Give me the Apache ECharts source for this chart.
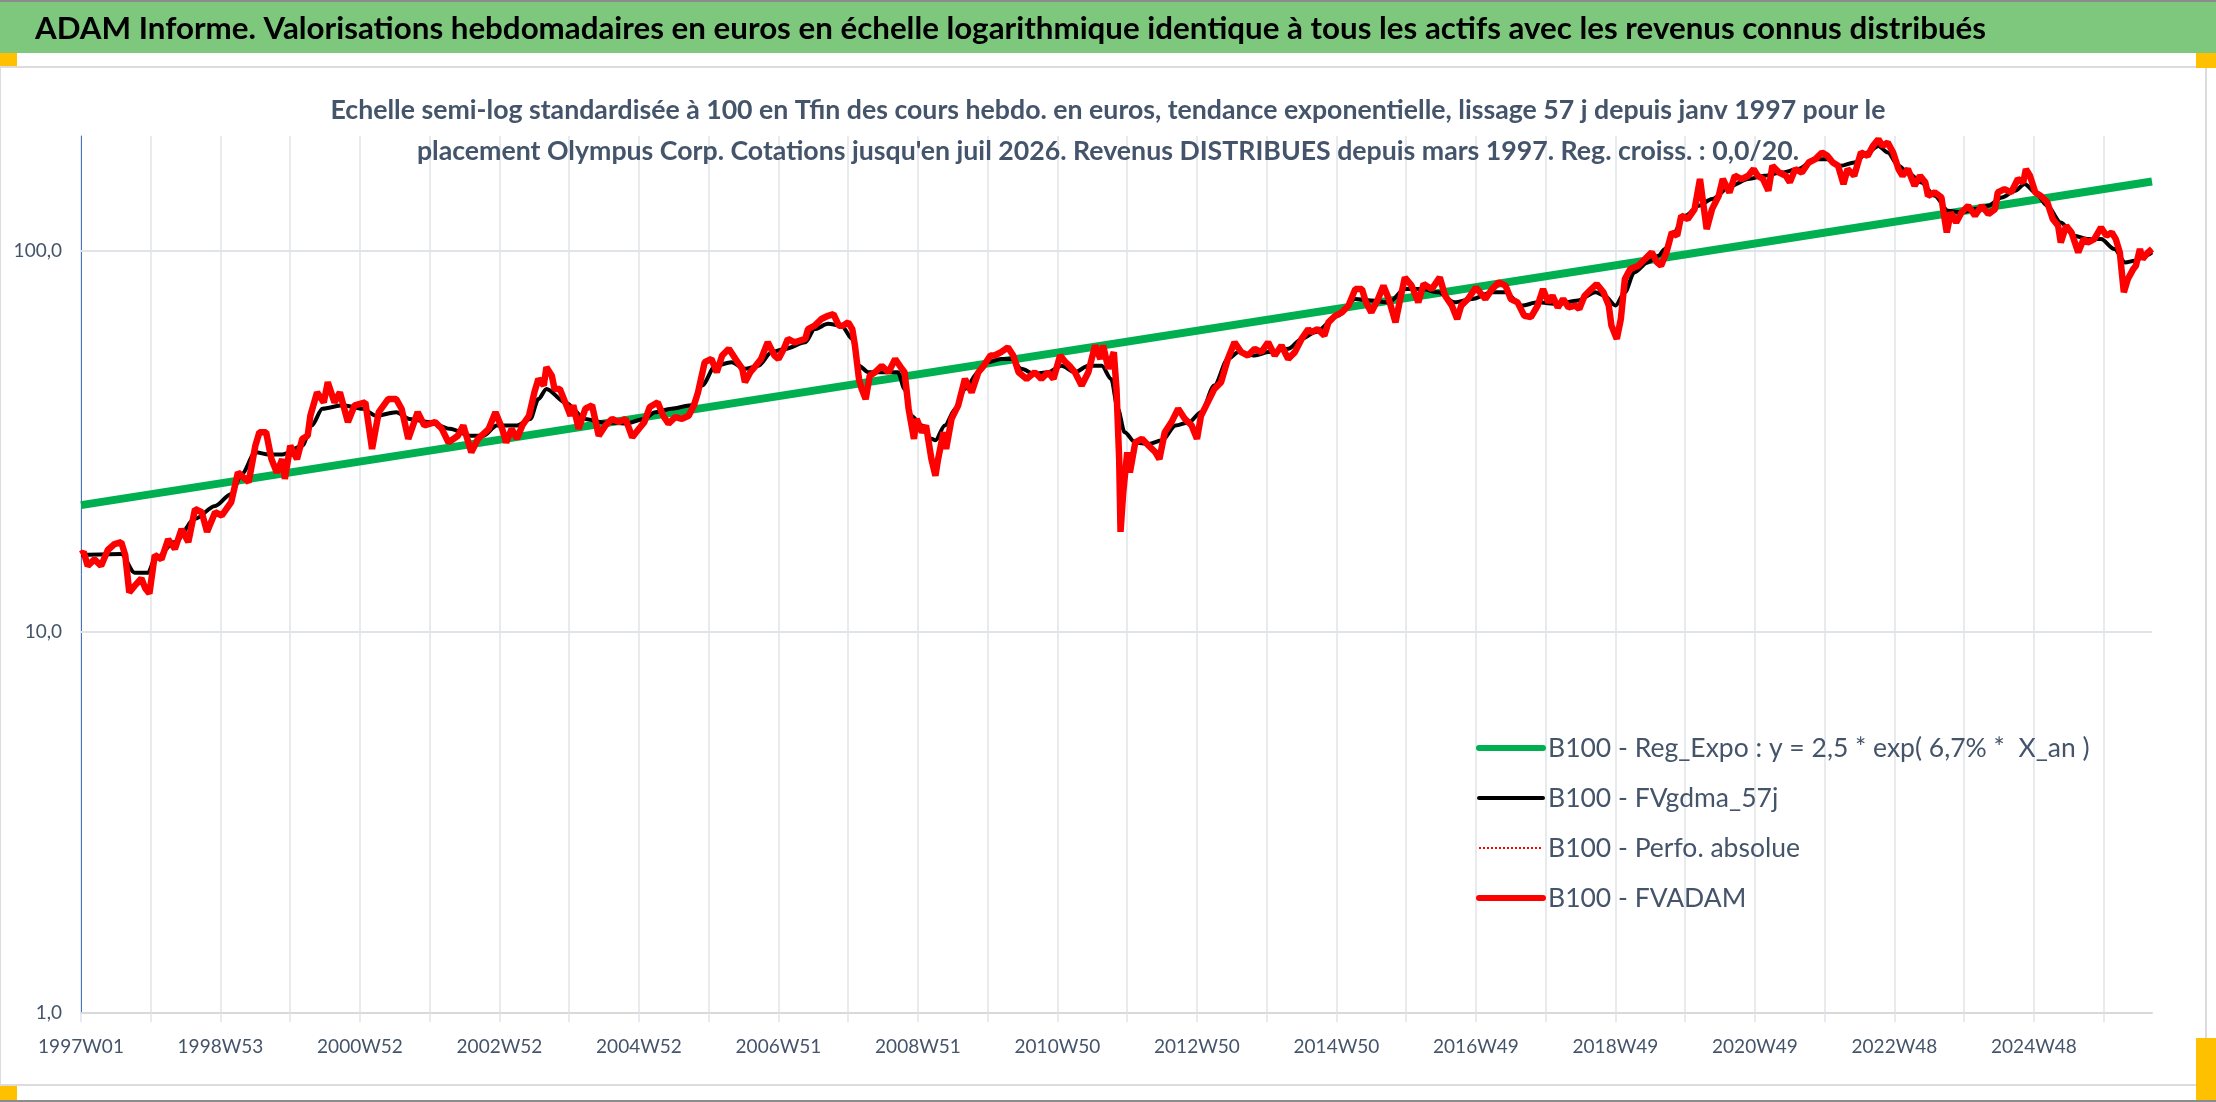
<!DOCTYPE html>
<html>
<head>
<meta charset="utf-8">
<title>ADAM Informe - Olympus Corp.</title>
<script src="https://cdn.jsdelivr.net/npm/echarts@6/dist/echarts.min.js"></script>
<style>
  html, body { margin: 0; padding: 0; background: #fff; }
  #chart { width: 2216px; height: 1102px; }
</style>
</head>
<body>
<div id="chart"></div>
<script>
// ---- data ([week index, value in base 100]) ----
const tickLabels = ['1997W01', '1998W53', '2000W52', '2002W52', '2004W52', '2006W51', '2008W51',
  '2010W50', '2012W50', '2014W50', '2016W49', '2018W49', '2020W49', '2022W48', '2024W48'];
const yGridValues = [10, 100];

// regression line, only its two ends are needed on a log axis
const regExpo = [[0, 21.5], [1544, 152]];

const fvadam = [
  [0,16.0],[2,16.2],[5,14.9],[10,15.5],[15,14.9],[20,16.4],[25,17.0],[30,17.2],[33,15.9],[36,12.7],[40,13.2],[45,13.8],[48,13.0],[51,12.6],[55,15.9],[60,15.5],[65,17.5],[70,16.5],[75,18.6],[80,17.2],[85,21.0],[90,20.6],[94,18.3],[100,20.6],[105,20.2],[112,21.9],[117,26.2],[125,24.7],[130,30.8],[133,33.4],[138,33.4],[142,28.4],[146,26.2],[150,28.4],[152,25.2],[156,30.8],[161,28.4],[165,32.1],[169,32.7],[171,36.9],[176,42.5],[181,40.0],[184,45.2],[189,40.0],[193,42.5],[199,35.5],[204,39.3],[212,40.0],[217,30.2],[222,37.7],[229,40.8],[235,40.8],[239,38.5],[244,32.1],[251,37.7],[256,34.8],[264,35.5],[269,34.1],[274,31.4],[281,32.7],[285,34.8],[291,29.6],[296,32.1],[304,34.1],[309,37.7],
  [314,34.1],[317,31.4],[321,34.1],[325,32.1],[329,34.8],[334,36.9],[338,42.5],[341,46.1],[345,44.3],[347,49.5],[351,47.0],[353,43.4],[357,43.4],[361,40.0],[365,36.9],[367,39.3],[371,34.1],[376,38.5],[381,39.3],[386,32.7],[391,34.8],[396,36.2],[401,35.5],[406,36.2],[411,32.4],[416,34.1],[420,35.5],[424,38.9],[430,40.0],[434,36.9],[438,35.2],[443,36.6],[448,36.2],[453,36.9],[457,39.3],[460,42.5],[465,51.0],[470,52.0],[474,48.0],[478,53.1],[483,55.3],[488,52.0],[493,49.0],[495,45.2],[499,48.0],[503,49.9],[507,52.0],[512,57.5],[517,53.1],[520,52.0],[524,55.3],[527,58.7],[532,57.5],[540,58.7],[542,62.3],[547,63.6],[552,66.2],[557,67.5],[561,68.2],[565,63.6],[568,63.6],[572,64.9],[575,62.3],[577,56.4],[580,46.1],[582,43.4],[585,40.8],[588,47.0],[592,48.0],[597,49.9],[602,48.0],[607,52.0],[612,49.0],
  [614,48.0],[617,38.5],[621,32.1],[623,36.2],[627,33.4],[630,34.8],[634,28.4],[637,25.7],[639,28.4],[643,33.4],[645,30.2],[649,36.2],[654,39.3],[659,46.1],[664,42.5],[669,48.0],[673,49.9],[678,53.1],[681,53.1],[686,54.2],[691,55.8],[695,53.1],[699,48.0],[705,46.1],[711,48.0],[716,46.1],[721,48.0],[725,46.1],[730,53.1],[734,51.0],[737,49.9],[741,48.0],[746,44.3],[751,48.0],[756,56.4],[760,52.0],[762,56.4],[766,49.0],[770,54.2],[772,43.4],[774,28.4],[775,18.3],[777,23.2],[780,29.6],[782,26.2],[786,31.4],[791,32.1],[796,30.8],[801,29.6],[804,28.4],[808,33.4],[813,35.5],[818,38.5],[823,36.2],[828,34.8],[832,32.1],[835,36.9],[840,40.0],[845,43.4],[850,45.2],[855,52.0],[860,57.5],[865,54.2],[870,53.1],[875,55.3],[880,54.2],[885,57.5],[890,53.1],[895,56.4],[900,52.0],[905,54.2],[910,58.7],[915,62.3],
  [917,61.1],[922,62.3],[927,59.9],[930,64.9],[935,67.5],[940,68.9],[945,71.8],[950,79.3],[955,79.3],[958,73.2],[962,68.9],[967,74.7],[971,81.0],[975,74.7],[980,64.9],[983,73.2],[987,85.1],[992,81.0],[997,73.2],[1001,81.8],[1007,79.3],[1013,85.1],[1017,76.2],[1022,71.8],[1026,66.2],[1029,71.8],[1034,74.7],[1040,80.1],[1047,74.7],[1052,79.3],[1057,82.6],[1062,81.0],[1066,74.7],[1071,73.2],[1076,67.5],[1081,67.0],[1086,71.8],[1090,79.3],[1094,73.2],[1097,76.2],[1101,71.0],[1105,74.7],[1109,71.0],[1114,71.8],[1117,70.3],[1121,76.2],[1126,79.3],[1130,81.8],[1135,77.8],[1139,71.8],[1141,63.6],[1145,58.7],[1148,66.2],[1151,84.3],[1155,89.5],[1161,91.3],[1166,95.1],[1171,99.0],[1175,93.2],[1178,91.3],[1182,99.0],[1186,111.7],[1190,109.5],[1193,123.5],[1198,121.1],[1203,128.6],[1207,154.2],[1209,136.6],[1212,114.0],[1216,128.6],[1221,139.4],[1224,154.2],
  [1229,142.2],[1233,157.3],[1238,154.2],[1243,157.3],[1247,163.8],[1250,157.3],[1254,154.2],[1258,143.7],[1261,167.0],[1266,160.4],[1271,157.3],[1274,151.1],[1278,163.8],[1283,160.4],[1288,170.4],[1293,173.9],[1298,181.0],[1302,177.4],[1306,170.4],[1310,167.0],[1314,149.6],[1317,163.8],[1322,157.3],[1327,181.0],[1332,177.4],[1336,188.4],[1340,196.2],[1343,188.4],[1347,192.2],[1351,181.0],[1355,163.8],[1358,157.3],[1362,163.8],[1367,148.0],[1371,157.3],[1375,151.1],[1377,139.4],[1382,142.2],[1387,138.0],[1389,123.5],[1391,111.7],[1394,126.0],[1398,118.6],[1402,126.0],[1407,131.2],[1412,123.5],[1417,131.2],[1422,124.8],[1427,128.6],[1429,142.2],[1434,145.1],[1439,142.2],[1444,154.2],[1448,151.1],[1450,163.8],[1453,157.3],[1457,142.2],[1461,139.4],[1466,133.9],[1470,121.1],[1474,116.3],[1476,105.1],[1480,116.3],[1484,111.7],[1489,99.0],[1493,107.3],[1496,105.1],[1501,107.3],[1506,115.1],[1510,109.5],[1514,111.7],[1517,107.3],[1520,99.0],[1521,91.3],[1523,77.8],[1526,84.3],[1530,89.5],[1532,91.3],[1535,101.0],[1537,95.1],[1541,99.0],[1544,101.0]
];

const fvgdma57 = [
  [0,15.9],[30,16.0],[40,14.3],[50,14.3],[55,15.5],[70,17.2],[85,19.8],[100,21.4],[112,23.0],[120,26.0],[130,29.6],[140,29.2],[150,29.2],[165,30.8],[172,34.8],[180,38.5],[195,39.3],[210,38.5],[220,36.9],[235,37.7],[245,36.2],[260,35.5],[275,34.1],[290,32.7],[300,32.7],[310,34.8],
  [325,34.8],[335,36.2],[341,40.8],[347,43.4],[361,40.0],[376,36.2],[388,35.5],[406,35.2],[420,36.2],[428,37.7],[440,38.5],[455,39.3],[463,44.3],[473,49.9],[485,51.0],[495,49.0],[505,49.9],[515,54.2],[525,55.3],[540,57.5],[547,62.3],[557,64.3],[567,63.6],[575,58.7],[580,49.9],[587,48.0],[600,48.0],[609,48.0],
  [614,43.4],[619,36.9],[627,34.8],[634,32.1],[637,31.8],[644,34.8],[652,38.5],[659,43.4],[669,48.0],[676,51.0],[686,52.0],[694,52.0],[701,49.0],[711,47.5],[721,48.0],[731,49.9],[741,48.0],[751,49.9],[761,49.9],[768,46.1],[773,38.5],[778,33.4],[786,31.4],[796,31.1],[806,31.8],[816,34.8],[826,35.5],[835,37.7],[845,44.3],[855,52.0],[863,54.2],[875,53.1],[885,54.2],[900,55.3],[910,58.7],[920,61.1],
  [937,67.5],[950,74.7],[962,74.0],[975,73.2],[987,79.3],[1000,79.3],[1012,77.8],[1024,73.2],[1037,74.7],[1052,77.8],[1062,77.8],[1074,71.8],[1086,73.2],[1101,72.5],[1116,74.0],[1129,77.8],[1136,76.2],[1144,71.8],[1151,77.8],[1158,87.7],[1168,93.2],[1176,97.0],[1181,101.0],[1186,109.5],[1196,123.5],[1206,131.2],[1216,136.6],
  [1230,148.0],[1243,154.2],[1255,157.3],[1268,160.4],[1280,163.8],[1293,173.9],[1302,173.9],[1312,167.0],[1322,170.4],[1332,181.0],[1340,188.4],[1347,181.0],[1355,167.0],[1362,160.4],[1372,151.1],[1382,139.4],[1392,127.3],[1402,126.0],[1412,128.6],[1422,131.2],[1432,138.0],[1442,143.7],[1449,149.6],[1457,142.2],[1466,131.2],[1476,118.6],[1486,109.5],[1496,107.3],[1506,107.3],[1516,101.0],[1524,93.2],[1531,94.1],[1539,97.0],[1544,99.0]
];

// ---- weekly categories, ISO weeks from 1997W01 ----
const nWeeks = 1545;
const weeks = [];
const start = Date.UTC(1996, 11, 30); // monday of 1997W01
for (let i = 0; i < nWeeks; i++) {
  const thu = new Date(start + (i * 7 + 3) * 86400000);
  const y = thu.getUTCFullYear();
  const doy = Math.floor((thu - Date.UTC(y, 0, 1)) / 86400000);
  const w = Math.floor(doy / 7) + 1;
  weeks.push(y + 'W' + (w < 10 ? '0' + w : w));
}

const mainTitle = 'ADAM Informe. Valorisations hebdomadaires en euros en échelle logarithmique identique à tous les actifs avec les revenus connus distribués';
const subTitle = 'Echelle semi-log standardisée à 100 en Tfin des cours hebdo. en euros, tendance exponentielle, lissage 57 j depuis janv 1997 pour le\n' +
  "placement Olympus Corp. Cotations jusqu'en juil 2026. Revenus DISTRIBUES depuis mars 1997. Reg. croiss. : 0,0/20.";
const names = ['B100 - Reg_Expo : y = 2,5 * exp( 6,7% *  X_an )', 'B100 - FVgdma_57j', 'B100 - Perfo. absolue', 'B100 - FVADAM'];

const font = 'Lato, "Noto Sans", sans-serif';
const txt = '#44546a';
const gridCol = '#e0e4e9';

const chart = echarts.init(document.getElementById('chart'));
chart.setOption({
  animation: false,
  backgroundColor: '#fff',
  graphic: [
    { type: 'rect', z: 0, shape: { x: 0, y: 0, width: 2216, height: 53 }, style: { fill: '#7ec87e' } },
    { type: 'rect', z: 0, shape: { x: 0, y: 0, width: 2216, height: 2 }, style: { fill: '#8c8c8c' } },
    { type: 'rect', z: 0, shape: { x: 0, y: 1100, width: 2216, height: 2 }, style: { fill: '#8c8c8c' } },
    { type: 'rect', z: 0, shape: { x: 0, y: 67, width: 2206, height: 1018 }, style: { fill: 'none', stroke: '#dcdcdc', lineWidth: 2 } },
    { type: 'rect', z: 0, shape: { x: 0, y: 53, width: 17, height: 13 }, style: { fill: '#ffc000' } },
    { type: 'rect', z: 0, shape: { x: 0, y: 1086, width: 17, height: 14 }, style: { fill: '#ffc000' } },
    { type: 'rect', z: 0, shape: { x: 2196, y: 53, width: 20, height: 15 }, style: { fill: '#ffc000' } },
    { type: 'rect', z: 0, shape: { x: 2196, y: 1038, width: 20, height: 62 }, style: { fill: '#ffc000' } }
  ],
  title: [
    {
      text: mainTitle, left: 35, top: 11, padding: 0,
      textStyle: { fontFamily: font, fontWeight: 'bold', fontSize: 31.3, lineHeight: 36, color: '#000' }
    },
    {
      text: subTitle, left: 'center', top: 90, padding: 0,
      textStyle: { fontFamily: font, fontWeight: 'bold', fontSize: 26.7, lineHeight: 41, color: txt }
    }
  ],
  legend: {
    orient: 'vertical', left: 1476, top: 733, padding: 0,
    itemWidth: 64, itemHeight: 14, itemGap: 20,
    itemStyle: { opacity: 0 },
    data: [
      { name: names[0], lineStyle: { width: 6, cap: 'round' } },
      { name: names[1], lineStyle: { width: 4, cap: 'round' } },
      { name: names[2], lineStyle: { width: 2 } },
      { name: names[3], lineStyle: { width: 6, cap: 'round' } }
    ],
    textStyle: { fontFamily: font, fontSize: 26.5, lineHeight: 30, color: txt }
  },
  grid: { left: 81, right: 64, top: 136, bottom: 89 },
  xAxis: {
    type: 'category', data: weeks, boundaryGap: false,
    axisLine: { onZero: false, lineStyle: { color: '#d9d9d9', width: 2 } },
    axisTick: { interval: 51, length: 9, lineStyle: { color: gridCol, width: 1.5 } },
    axisLabel: {
      interval: (i, v) => tickLabels.indexOf(v) >= 0,
      margin: 24, fontFamily: font, fontSize: 19, color: txt
    },
    splitLine: { show: true, interval: 51, lineStyle: { color: gridCol, width: 1.5 } }
  },
  yAxis: {
    type: 'log', logBase: 10, min: 1, max: 200,
    axisLine: { show: true, lineStyle: { color: '#4472c4', width: 1 } },
    axisTick: { show: false },
    splitLine: { show: false },
    axisLabel: {
      showMaxLabel: false, margin: 19, fontFamily: font, fontSize: 19, color: txt,
      formatter: v => v.toFixed(1).replace('.', ',')
    }
  },
  series: [
    {
      name: 'grid', type: 'line', data: regExpo, symbol: 'none', silent: true, z: 1,
      lineStyle: { opacity: 0 },
      markLine: {
        z: 1, silent: true, symbol: ['none', 'none'], label: { show: false },
        lineStyle: { color: gridCol, width: 2, type: 'solid' },
        data: yGridValues.map(v => ({ yAxis: v }))
      }
    },
    {
      name: names[0], type: 'line', data: regExpo, symbol: 'none', z: 2,
      lineStyle: { color: '#00b050', width: 8 }, itemStyle: { color: '#00b050' }
    },
    {
      name: names[1], type: 'line', data: fvgdma57, symbol: 'none', z: 3,
      smooth: 0.3, smoothMonotone: 'x',
      lineStyle: { color: '#000', width: 4 }, itemStyle: { color: '#000' }
    },
    {
      name: names[2], type: 'line', data: fvadam, symbol: 'none', z: 4,
      lineStyle: { color: '#ff0000', width: 2, type: 'dotted' }, itemStyle: { color: '#ff0000' }
    },
    {
      name: names[3], type: 'line', data: fvadam, symbol: 'none', z: 5,
      lineStyle: { color: '#ff0000', width: 6.5 }, itemStyle: { color: '#ff0000' }
    }
  ]
});
</script>
</body>
</html>
